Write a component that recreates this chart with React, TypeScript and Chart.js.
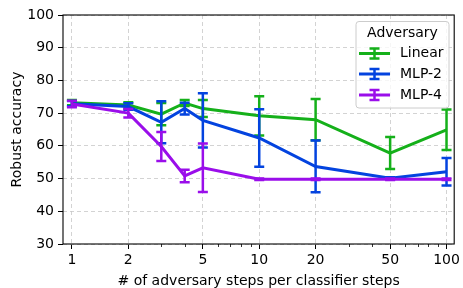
import React, { useEffect, useRef } from "react";
import { Chart, registerables } from "chart.js";

Chart.register(...registerables);

const steps = [1, 2, 3, 4, 5, 10, 20, 50, 100];
const xTicks = [1, 2, 5, 10, 20, 50, 100];
const xMinor = [3, 4, 6, 7, 8, 9, 30, 40, 60, 70, 80, 90];
const yTicks = [30, 40, 50, 60, 70, 80, 90, 100];

const seriesNames = ["Linear", "MLP-2", "MLP-4"];
const linearMean = [73.2, 72.5, 69.7, 73.1, 71.4, 69.2, 68.0, 57.8, 64.9];
const linearErr = [0.8, 0.8, 3.4, 0.9, 2.6, 6.0, 6.3, 4.9, 6.2];
const mlp2Mean = [72.9, 72.0, 67.2, 71.4, 67.8, 62.4, 53.7, 50.1, 52.1];
const mlp2Err = [0.8, 1.0, 6.4, 1.8, 8.3, 8.8, 7.9, 0.3, 4.2];
const mlp4Mean = [72.8, 70.0, 59.8, 50.8, 53.3, 49.8, 49.8, 49.8, 49.8];
const mlp4Err = [1.0, 1.3, 4.4, 1.9, 7.4, 0.2, 0.2, 0.2, 0.2];

const colors = ["#15b01a", "#0343df", "#9a0eea"];
const FONT = "DejaVu Sans";

const errorBars = {
  id: "errorBars",
  afterDatasetDraw(chart: any, args: any) {
    const ds = chart.data.datasets[args.index];
    const ys = chart.scales.y;
    const ctx = chart.ctx;
    ctx.save();
    ctx.strokeStyle = ds.borderColor;
    ctx.lineWidth = 2.5;
    ctx.lineCap = "butt";
    args.meta.data.forEach((pt: any, i: number) => {
      const v = ds.data[i].y;
      const e = ds.errors[i];
      const t = ys.getPixelForValue(v + e);
      const b = ys.getPixelForValue(v - e);
      const x = pt.x;
      ctx.beginPath();
      ctx.moveTo(x, t);
      ctx.lineTo(x, b);
      ctx.moveTo(x - 5, t);
      ctx.lineTo(x + 5, t);
      ctx.moveTo(x - 5, b);
      ctx.lineTo(x + 5, b);
      ctx.stroke();
    });
    ctx.restore();
  },
};

const frame = {
  id: "frame",
  afterDatasetsDraw(chart: any) {
    const { ctx, chartArea } = chart;
    const xs = chart.scales.x;
    ctx.save();
    // minor ticks
    ctx.strokeStyle = "#000";
    ctx.lineWidth = 0.8;
    xMinor.forEach((v) => {
      const px = Math.round(xs.getPixelForValue(v)) + 0.5;
      ctx.beginPath();
      ctx.moveTo(px, chartArea.bottom);
      ctx.lineTo(px, chartArea.bottom + 3);
      ctx.stroke();
    });
    ctx.lineWidth = 1.1;
    ctx.strokeRect(
      chartArea.left,
      chartArea.top,
      chartArea.right - chartArea.left,
      chartArea.bottom - chartArea.top
    );
    ctx.restore();
  },
  afterDraw(chart: any) {
    const ctx = chart.ctx;
    const bx = 356, by = 21.5, bw = 93, bh = 86.5, r = 3;
    ctx.save();
    ctx.beginPath();
    ctx.moveTo(bx + r, by);
    ctx.arcTo(bx + bw, by, bx + bw, by + bh, r);
    ctx.arcTo(bx + bw, by + bh, bx, by + bh, r);
    ctx.arcTo(bx, by + bh, bx, by, r);
    ctx.arcTo(bx, by, bx + bw, by, r);
    ctx.closePath();
    ctx.fillStyle = "rgba(255,255,255,0.8)";
    ctx.fill();
    ctx.strokeStyle = "#cccccc";
    ctx.lineWidth = 1;
    ctx.stroke();

    ctx.fillStyle = "#000";
    ctx.font = `14px "${FONT}"`;
    ctx.textBaseline = "middle";
    ctx.textAlign = "center";
    ctx.fillText("Adversary", bx + bw / 2, 33);
    ctx.textAlign = "left";
    const rows = [53.5, 74, 95];
    chart.data.datasets.forEach((ds: any, i: number) => {
      const y = rows[i];
      ctx.strokeStyle = ds.borderColor;
      ctx.lineWidth = 3;
      ctx.beginPath();
      ctx.moveTo(359, y);
      ctx.lineTo(390, y);
      ctx.stroke();
      ctx.lineWidth = 2.5;
      ctx.beginPath();
      ctx.moveTo(374.5, y - 5);
      ctx.lineTo(374.5, y + 5);
      ctx.moveTo(369.5, y - 5);
      ctx.lineTo(379.5, y - 5);
      ctx.moveTo(369.5, y + 5);
      ctx.lineTo(379.5, y + 5);
      ctx.stroke();
      ctx.fillStyle = "#000";
      ctx.fillText(ds.label, 400, y);
    });
    ctx.restore();
  },
};

export default function App() {
  const ref = useRef<HTMLCanvasElement>(null);
  useEffect(() => {
    document.body.style.margin = "0";
    const means = [linearMean, mlp2Mean, mlp4Mean];
    const errs = [linearErr, mlp2Err, mlp4Err];
    const chart = new Chart(ref.current!, {
      type: "line",
      data: {
        datasets: seriesNames.map((name, k) => ({
          label: name,
          data: steps.map((s, i) => ({ x: s, y: means[k][i] })),
          errors: errs[k],
          borderColor: colors[k],
          backgroundColor: colors[k],
          borderWidth: 3,
          pointRadius: 0,
          tension: 0,
          fill: false,
          order: 3 - k,
        })) as any,
      },
      options: {
        animation: false,
        responsive: false,
        layout: { padding: { left: 0, top: 15, right: 6, bottom: 0 } },
        plugins: { legend: { display: false }, tooltip: { enabled: false } },
        scales: {
          x: {
            type: "logarithmic",
            min: 0.896,
            max: 109.9,
            afterBuildTicks: (scale: any) => {
              scale.ticks = xTicks.map((v) => ({ value: v }));
            },
            afterFit: (scale: any) => {
              scale.height = 44;
            },
            ticks: {
              autoSkip: false,
              maxRotation: 0,
              color: "#000",
              font: { family: FONT, size: 14 },
              padding: 3,
              callback: (v: any) => String(v),
            },
            grid: {
              color: "#c8c8c8",
              lineWidth: 0.8,
              drawTicks: true,
              tickLength: 5,
              tickColor: "#000",
              tickWidth: 1,
              tickBorderDash: [],
            },
            border: { display: false, dash: [4, 3] },
            title: {
              display: true,
              text: "# of adversary steps per classifier steps",
              color: "#000",
              font: { family: FONT, size: 14 },
              padding: { top: 0, bottom: -2 },
            },
          },
          y: {
            type: "linear",
            min: 30,
            max: 100,
            afterBuildTicks: (scale: any) => {
              scale.ticks = yTicks.map((v) => ({ value: v }));
            },
            afterFit: (scale: any) => {
              scale.width = 63;
            },
            ticks: {
              color: "#000",
              font: { family: FONT, size: 14 },
              padding: 4,
              callback: (v: any) => String(v),
            },
            grid: {
              color: "#c8c8c8",
              lineWidth: 0.8,
              drawTicks: true,
              tickLength: 5,
              tickColor: "#000",
              tickWidth: 1,
              tickBorderDash: [],
            },
            border: { display: false, dash: [4, 3] },
            title: {
              display: true,
              text: "Robust accuracy",
              color: "#000",
              font: { family: FONT, size: 14 },
              padding: { top: 9, bottom: 0 },
            },
          },
        },
      },
      plugins: [errorBars, frame],
    } as any);
    return () => chart.destroy();
  }, []);
  return (
    <div style={{ position: "absolute", left: 0, top: 0, width: 463, height: 288 }}>
      <canvas ref={ref} width={463} height={288} style={{ display: "block" }} />
    </div>
  );
}
